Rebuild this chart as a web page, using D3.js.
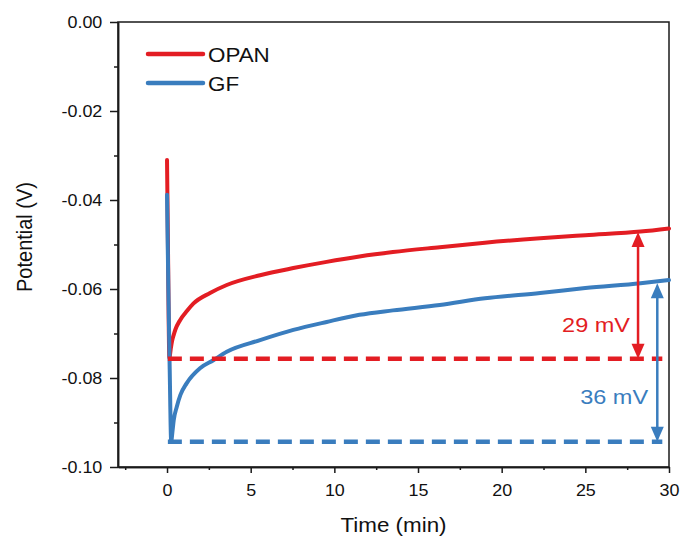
<!DOCTYPE html>
<html><head><meta charset="utf-8">
<script src="https://cdn.jsdelivr.net/npm/d3@7"></script>
<style>body{margin:0;background:#fff}svg{display:block}text{font-family:Arial,"Liberation Sans",sans-serif}</style>
</head><body><svg id="c" width="684" height="539"></svg>
<script>
// ---- data ----
const seriesNames = ["OPAN", "GF"];
const opanTime = [0,0.06,0.14,0.22,0.3,0.4,0.5,0.78,1.2,1.57,2.57,3.57,5.56,7.55,9.54,11.5,13.5,16.3,19,22.3,25,28.3,30];
const opanPotential = [-0.031,-0.052,-0.0755,-0.0735,-0.0717,-0.0703,-0.0691,-0.067,-0.0649,-0.0633,-0.0609,-0.0591,-0.0569,-0.0553,-0.0539,-0.0527,-0.0517,-0.0506,-0.0496,-0.0486,-0.0479,-0.0471,-0.0464];
const gfTime = [0,0.08,0.16,0.25,0.32,0.4,0.58,0.8,1.17,1.97,2.77,3.57,5.56,7.55,9.54,11.5,13.5,16.3,19,22.3,25,28.3,30];
const gfPotential = [-0.0388,-0.06,-0.078,-0.0943,-0.0922,-0.0895,-0.0865,-0.0838,-0.0812,-0.0778,-0.076,-0.0741,-0.0715,-0.0692,-0.0674,-0.0658,-0.0648,-0.0636,-0.0621,-0.0609,-0.0598,-0.0587,-0.058];
const baselineValues = [-0.0757, -0.0943];
const baselineStart = [0.05, 0.05];
const baselineEnd = [29.6, 29.6];
const arrowTime = [28.15, 29.3];
const arrowTop = [-0.0472, -0.0587];
const annotationLabels = ["29 mV", "36 mV"];
const labelTime = [27.67, 28.75];
const labelValue = [-0.0697, -0.0859];
const xTicks = [0,5,10,15,20,25,30];
const xMinorTicks = [-2.5,2.5,7.5,12.5,17.5,22.5,27.5];
const yTicks = [0,-0.02,-0.04,-0.06,-0.08,-0.10];
const yMinorTicks = [-0.01,-0.03,-0.05,-0.07,-0.09];
const colors = ["#e31d23", "#3a7dbe"];

// ---- layout ----
const SX = 1.12;
const L = 118, R = 669, T = 22, B = 467;
const svg = d3.select("#c");
const x = d3.scaleLinear().domain([-2.93, 30]).range([L, R]);
const y = d3.scaleLinear().domain([0, -0.1]).range([T, B]);
const yFmt = v => d3.format(".2f")(v).replace("\u2212", "-");

// frame
svg.append("rect").attr("x", L).attr("y", T).attr("width", R - L).attr("height", B - T)
  .attr("fill", "none").attr("stroke", "#1a1a1a").attr("stroke-width", 1.5);

// axes
const gx = svg.append("g").attr("transform", `translate(0,${B})`)
  .call(d3.axisBottom(x).tickValues(xTicks).tickFormat(d3.format("d")).tickSize(6).tickPadding(12).tickSizeOuter(0));
const gxm = svg.append("g").attr("transform", `translate(0,${B})`)
  .call(d3.axisBottom(x).tickValues(xMinorTicks).tickFormat("").tickSize(3).tickSizeOuter(0));
const gy = svg.append("g").attr("transform", `translate(${L},0)`)
  .call(d3.axisLeft(y).tickValues(yTicks).tickFormat(yFmt).tickSize(8).tickPadding(6).tickSizeOuter(0));
const gym = svg.append("g").attr("transform", `translate(${L},0)`)
  .call(d3.axisLeft(y).tickValues(yMinorTicks).tickFormat("").tickSize(4).tickSizeOuter(0));
[gx, gxm, gy, gym].forEach(g => {
  g.select(".domain").attr("stroke", "#1a1a1a").attr("stroke-width", 1.5);
  g.selectAll(".tick line").attr("stroke", "#1a1a1a").attr("stroke-width", 1.5);
  g.selectAll(".tick text").attr("font-size", 16).attr("fill", "#111")
    .attr("font-family", "Arial, 'Liberation Sans', sans-serif")
    .attr("transform", `scale(${SX},1)`);
});
gx.selectAll(".tick text").attr("x", 0);

// axis titles
svg.append("text").attr("transform", `translate(${(L + R) / 2},532) scale(${SX},1)`)
  .attr("text-anchor", "middle").attr("font-size", 20).attr("fill", "#111").text("Time (min)");
svg.append("text").attr("transform", `translate(32,237) scale(${SX},1) rotate(-90)`)
  .attr("text-anchor", "middle").attr("font-size", 20).attr("fill", "#111").text("Potential (V)");

// curves
const line = d3.line().x(d => x(d[0])).y(d => y(d[1])).curve(d3.curveMonotoneX);
const series = [d3.zip(opanTime, opanPotential), d3.zip(gfTime, gfPotential)];
series.forEach((s, i) => {
  svg.append("path").datum(s).attr("d", line).attr("fill", "none")
    .attr("stroke", colors[i]).attr("stroke-width", 4).attr("stroke-linejoin", "round").attr("stroke-linecap", "round");
});

// dashed baselines
baselineValues.forEach((v, i) => {
  svg.append("line").attr("x1", x(baselineStart[i])).attr("x2", x(baselineEnd[i]))
    .attr("y1", y(v)).attr("y2", y(v)).attr("stroke", colors[i]).attr("stroke-width", 4.5)
    .attr("stroke-dasharray", "14,8");
});

// arrows
arrowTime.forEach((t, i) => {
  const ax = x(t), y1 = y(arrowTop[i]), y2 = y(baselineValues[i]);
  const hl = 15, hw = 6.5;
  svg.append("line").attr("x1", ax).attr("x2", ax).attr("y1", y1 + hl - 2).attr("y2", y2 - hl + 2)
    .attr("stroke", colors[i]).attr("stroke-width", 2.5);
  svg.append("path").attr("d", `M${ax},${y1}L${ax - hw},${y1 + hl}L${ax + hw},${y1 + hl}Z`).attr("fill", colors[i]);
  svg.append("path").attr("d", `M${ax},${y2}L${ax - hw},${y2 - hl}L${ax + hw},${y2 - hl}Z`).attr("fill", colors[i]);
  svg.append("text").attr("transform", `translate(${x(labelTime[i])},${y(labelValue[i])}) scale(${SX},1)`)
    .attr("text-anchor", "end").attr("font-size", 21).attr("fill", colors[i]).text(annotationLabels[i]);
});

// legend
const legY = [54, 83];
seriesNames.forEach((n, i) => {
  svg.append("line").attr("x1", 148).attr("x2", 203).attr("y1", legY[i]).attr("y2", legY[i])
    .attr("stroke", colors[i]).attr("stroke-width", 4.5).attr("stroke-linecap", "round");
  svg.append("text").attr("transform", `translate(208,${legY[i] + 7.5}) scale(${SX},1)`)
    .attr("font-size", 20).attr("fill", "#111").text(n);
});
</script></body></html>
